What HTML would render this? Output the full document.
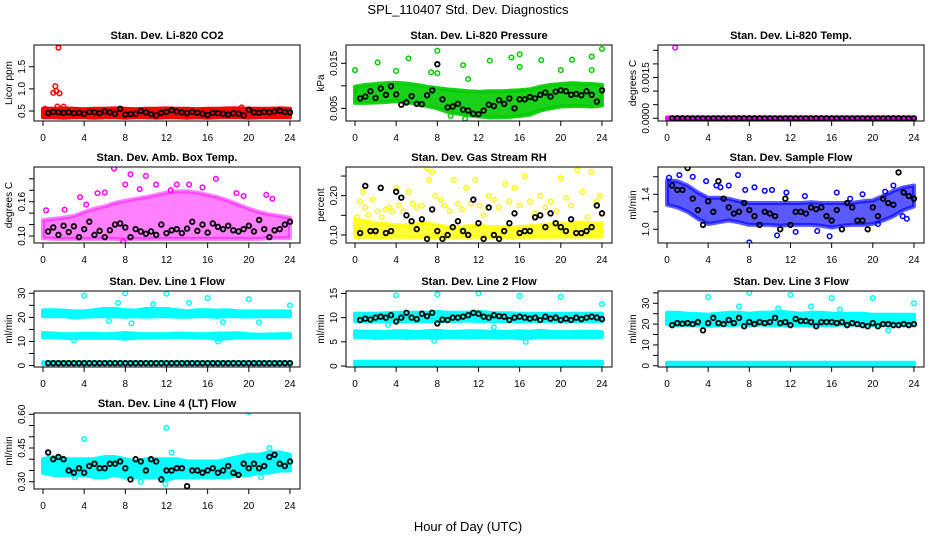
<!DOCTYPE html>
<html><head><meta charset="utf-8"><style>
body{margin:0;background:#fff;}
svg text{font-family:"Liberation Sans",sans-serif;}
</style></head><body>
<svg id="chart" width="936" height="540" viewBox="0 0 936 540" xmlns="http://www.w3.org/2000/svg">
<text x="468" y="14" text-anchor="middle" font-size="13">SPL_110407  Std. Dev. Diagnostics</text>
<text x="468" y="531" text-anchor="middle" font-size="13">Hour of Day (UTC)</text>
</svg>
<script>
const xTicks=[0,4,8,12,16,20,24];
const bandHours=[0,1,2,3,4,5,6,7,8,9,10,11,12,13,14,15,16,17,18,19,20,21,22,23,24];
const blackHours=[0.5,1,1.5,2,2.5,3,3.5,4,4.5,5,5.5,6,6.5,7,7.5,8,8.5,9,9.5,10,10.5,11,11.5,12,12.5,13,13.5,14,14.5,15,15.5,16,16.5,17,17.5,18,18.5,19,19.5,20,20.5,21,21.5,22,22.5,23,23.5,24];

// CO2
const co2Lo=[0.36,0.36,0.35,0.36,0.36,0.35,0.36,0.36,0.35,0.36,0.36,0.35,0.36,0.36,0.35,0.36,0.35,0.36,0.36,0.36,0.35,0.36,0.36,0.36,0.36];
const co2Hi=[0.55,0.55,0.56,0.55,0.54,0.55,0.55,0.56,0.55,0.54,0.55,0.55,0.56,0.55,0.55,0.54,0.55,0.55,0.56,0.56,0.55,0.55,0.55,0.56,0.55];
const co2OutX=[1.5,1.2,1.0,1.3,1.6,1.4,2.0,19.3,0.2];
const co2OutY=[1.93,1.06,0.91,0.95,0.9,0.6,0.6,0.58,0.55];
const co2Black=[0.45,0.48,0.47,0.46,0.47,0.45,0.46,0.44,0.48,0.47,0.45,0.49,0.47,0.44,0.55,0.42,0.43,0.44,0.50,0.47,0.43,0.40,0.46,0.48,0.52,0.49,0.47,0.45,0.48,0.46,0.44,0.41,0.46,0.45,0.44,0.42,0.45,0.44,0.40,0.53,0.47,0.46,0.48,0.47,0.49,0.51,0.48,0.47];
// Pressure
const presLo=[0.0062,0.0062,0.0063,0.0064,0.0066,0.0064,0.006,0.0055,0.005,0.0042,0.0038,0.0035,0.0032,0.003,0.003,0.0031,0.0033,0.0036,0.0045,0.005,0.0054,0.0055,0.0055,0.0054,0.0056];
const presHi=[0.0098,0.0102,0.0104,0.0106,0.0107,0.0105,0.0102,0.0098,0.0095,0.0092,0.009,0.0088,0.0087,0.0088,0.0088,0.0089,0.009,0.0092,0.0098,0.0102,0.0104,0.0106,0.0105,0.0104,0.0102];
const presOutX=[0,2.2,4,5.2,7.4,8,8,10.5,11,13.1,15.2,16,16,18.1,20,21.1,23,23,24,10.7,9.3];
const presOutY=[0.0135,0.0152,0.0133,0.0161,0.013,0.0178,0.0128,0.0146,0.0115,0.0156,0.0163,0.017,0.0142,0.0157,0.0135,0.0158,0.0135,0.0165,0.0182,0.0027,0.0033];
const presBlack=[0.0072,0.0076,0.0088,0.0073,0.0094,0.0080,0.0099,0.0081,0.0058,0.0063,0.0077,0.0060,0.0059,0.0079,0.0090,0.0148,0.0070,0.0052,0.0054,0.0060,0.0047,0.0045,0.0038,0.0037,0.0045,0.0058,0.0055,0.0068,0.0060,0.0072,0.0050,0.0070,0.0070,0.0075,0.0072,0.0080,0.0085,0.0076,0.0087,0.0090,0.0088,0.0080,0.0082,0.0079,0.0088,0.0080,0.0065,0.0090];
// Temp
const tempLo=[-0.00003,-0.00003,-0.00003,-0.00003,-0.00003,-0.00003,-0.00003,-0.00003,-0.00003,-0.00003,-0.00003,-0.00003,-0.00003,-0.00003,-0.00003,-0.00003,-0.00003,-0.00003,-0.00003,-0.00003,-0.00003,-0.00003,-0.00003,-0.00003,-0.00003];
const tempHi=[0.00003,0.00003,0.00003,0.00003,0.00003,0.00003,0.00003,0.00003,0.00003,0.00003,0.00003,0.00003,0.00003,0.00003,0.00003,0.00003,0.00003,0.00003,0.00003,0.00003,0.00003,0.00003,0.00003,0.00003,0.00003];
const tempOutX=[0.8];
const tempOutY=[0.0026];
const tempBlack=[0,0,0,0,0,0,0,0,0,0,0,0,0,0,0,0,0,0,0,0,0,0,0,0,0,0,0,0,0,0,0,0,0,0,0,0,0,0,0,0,0,0,0,0,0,0,0,0];
// Amb box temp
const ambLo=[0.096,0.095,0.095,0.095,0.095,0.095,0.095,0.095,0.094,0.095,0.095,0.095,0.095,0.095,0.095,0.095,0.095,0.095,0.095,0.095,0.095,0.095,0.096,0.096,0.096];
const ambHi=[0.128,0.13,0.132,0.135,0.142,0.148,0.152,0.158,0.162,0.165,0.168,0.172,0.176,0.178,0.178,0.176,0.172,0.168,0.162,0.155,0.148,0.142,0.138,0.135,0.132];
const ambOutX=[6.9,8.5,10,8,13,14.2,16.8,11,3.6,5.3,6,21.7,22.3,0.3,2.1,4.2,15.5,18.8,9.4,12.4,7.8,19.5];
const ambOutY=[0.218,0.208,0.205,0.19,0.19,0.19,0.2,0.19,0.168,0.175,0.176,0.172,0.165,0.145,0.146,0.155,0.185,0.175,0.182,0.18,0.09,0.17];
const ambBlack=[0.108,0.115,0.102,0.118,0.107,0.117,0.098,0.112,0.125,0.102,0.109,0.098,0.110,0.120,0.122,0.115,0.098,0.112,0.108,0.104,0.108,0.102,0.120,0.105,0.110,0.112,0.105,0.113,0.125,0.109,0.120,0.106,0.122,0.116,0.112,0.118,0.110,0.108,0.112,0.118,0.108,0.128,0.112,0.098,0.110,0.112,0.120,0.125];
// RH
const rhLo=[0.095,0.095,0.094,0.095,0.095,0.095,0.095,0.095,0.094,0.095,0.095,0.095,0.095,0.095,0.095,0.095,0.095,0.095,0.095,0.095,0.096,0.096,0.096,0.096,0.096];
const rhHi=[0.14,0.135,0.13,0.128,0.125,0.125,0.128,0.13,0.125,0.12,0.12,0.122,0.125,0.12,0.12,0.12,0.12,0.122,0.125,0.128,0.13,0.13,0.132,0.13,0.13];
const rhOutX=[0.2,0.5,0.8,1.0,1.3,1.7,2.2,2.6,3.0,3.3,3.6,4.0,4.3,4.7,5.2,5.6,6.0,6.5,7.0,7.2,7.5,7.8,8.3,8.7,9.2,9.6,10.0,10.4,10.8,11.3,11.7,12.1,12.5,13.0,13.5,14.0,14.6,15.0,15.5,16.0,16.5,17.0,17.5,18.0,18.5,19.0,19.6,20.0,20.5,21.0,21.6,22.1,22.6,23.0,23.5,23.8];
const rhOutY=[0.145,0.185,0.21,0.17,0.15,0.19,0.16,0.145,0.165,0.17,0.16,0.22,0.175,0.16,0.21,0.18,0.17,0.175,0.27,0.24,0.26,0.2,0.19,0.175,0.16,0.24,0.18,0.165,0.22,0.18,0.24,0.175,0.15,0.2,0.19,0.17,0.23,0.185,0.22,0.175,0.25,0.185,0.155,0.2,0.17,0.185,0.16,0.245,0.195,0.175,0.265,0.21,0.145,0.26,0.185,0.2];
const rhBlack=[0.105,0.225,0.11,0.11,0.22,0.105,0.11,0.21,0.195,0.15,0.135,0.115,0.14,0.09,0.165,0.11,0.09,0.10,0.12,0.135,0.11,0.10,0.19,0.13,0.09,0.17,0.10,0.09,0.11,0.13,0.155,0.105,0.11,0.11,0.145,0.15,0.12,0.155,0.13,0.12,0.11,0.14,0.105,0.105,0.11,0.12,0.175,0.155];
// Sample flow
const sfLo=[1.28,1.25,1.2,1.12,1.06,1.08,1.1,1.08,1.05,1.05,1.05,1.04,1.05,1.05,1.05,1.04,1.02,1.04,1.05,1.05,1.06,1.1,1.15,1.22,1.26];
const sfHi=[1.56,1.55,1.5,1.42,1.36,1.36,1.35,1.32,1.3,1.3,1.3,1.3,1.3,1.3,1.31,1.3,1.3,1.3,1.3,1.32,1.33,1.38,1.44,1.48,1.5];
const sfOutX=[0.2,1.2,2.5,3.8,4.8,5.2,6.0,6.9,7.6,8.0,8.5,9.5,10.2,10.7,11.6,12.5,13.4,14.6,15.8,16.5,17.8,19.0,20.5,21.2,22.0,22.9,23.3];
const sfOutY=[1.59,1.62,1.6,1.55,1.5,1.48,1.5,1.62,1.45,0.85,1.48,1.44,1.45,0.93,1.42,0.97,1.38,0.98,0.92,1.42,1.35,1.4,1.06,1.43,1.5,1.15,1.12];
const sfBlack=[1.5,1.45,1.45,1.7,1.35,1.22,1.05,1.32,1.2,1.55,1.35,1.25,1.18,1.2,1.3,1.22,1.15,1.05,1.2,1.18,1.15,1.0,1.35,1.05,1.2,1.2,1.18,1.25,1.23,1.25,1.15,1.1,1.22,1.0,1.3,1.25,1.1,1.1,1.0,1.25,1.15,1.35,1.3,1.28,1.65,1.42,1.38,1.35];
// Line 1
const l1TopLo=[20.5,20.5,20.5,20,20.3,20.5,20.5,20.5,20.2,20.5,20.3,20.5,20.5,20.3,20.2,20.5,20.5,20.2,20.5,20.5,20.3,20.5,20.5,20.5,20.5];
const l1TopHi=[23,23,22.8,22.5,22.5,23,23.5,23.5,23,22.8,23.5,23.5,23.5,23,22.5,23,23,22.8,23,22.5,22.5,22.5,22.5,22.5,22.5];
const l1MidLo=[11.8,11.8,11.5,11.3,11.5,11.5,11.5,11.5,11.2,11.5,11.7,11.7,11.8,11.8,11.8,11.7,11.5,11,11.3,11.7,11.7,11.6,11.7,11.7,11.8];
const l1MidHi=[13.5,13.3,13,13,13.2,13.2,13,13.2,13.5,13.2,13,13,13,13.3,13.2,13,13,13.3,13.3,13.4,13,12.8,12.9,13,13];
const l1BotLo=[0.6,0.6,0.6,0.6,0.6,0.6,0.6,0.6,0.6,0.6,0.6,0.6,0.6,0.6,0.6,0.6,0.6,0.6,0.6,0.6,0.6,0.6,0.6,0.6,0.6];
const l1BotHi=[1.4,1.4,1.4,1.4,1.4,1.4,1.4,1.4,1.4,1.4,1.4,1.4,1.4,1.4,1.4,1.4,1.4,1.4,1.4,1.4,1.4,1.4,1.4,1.4,1.4];
const l1OutX=[4,8,12,16,20,24,14.2,7.3,8.6,21,17.5,17,3,10.7,6.4];
const l1OutY=[29,30,29.8,28,27.5,25,26,26,17.5,18,18,10,10.5,25.5,18.5];
const l1Black=[1,1,1,1,1,1,1,1,1,1,1,1,1,1,1,1,1,1,1,1,1,1,1,1,1,1,1,1,1,1,1,1,1,1,1,1,1,1,1,1,1,1,1,1,1,1,1,1];
// Line 2
const l2TopLo=[9.3,9.2,9.2,9.3,9.2,9.3,9.2,9.3,9.3,9.3,9.3,9.4,9.3,9.3,9.3,9.3,9.2,9.3,9.3,9.3,9.2,9.3,9.3,9.3,9.3];
const l2TopHi=[10.8,10.8,10.8,10.9,11,11,11,11,11.2,11,11,11,11.2,11,10.9,10.9,10.8,10.8,10.8,10.8,10.8,10.8,10.8,10.8,10.8];
const l2MidLo=[6,6,5.8,5.9,6,5.8,5.9,6,5.8,6,6,5.9,6,6,5.9,6,5.7,5.8,6,6,6,6,6,6,6];
const l2MidHi=[7.2,7.1,7.1,7,7.2,7.2,7,7.2,7.3,7.1,7.1,7.2,7.2,7.1,7.1,7.1,7.2,7.1,7.3,7.1,7,7,7.1,7.1,7];
const l2BotLo=[0.3,0.3,0.3,0.3,0.3,0.3,0.3,0.3,0.3,0.3,0.3,0.3,0.3,0.3,0.3,0.3,0.3,0.3,0.3,0.3,0.3,0.3,0.3,0.3,0.3];
const l2BotHi=[0.9,0.9,0.9,0.9,0.9,0.9,0.9,0.9,0.9,0.9,0.9,0.9,0.9,0.9,0.9,0.9,0.9,0.9,0.9,0.9,0.9,0.9,0.9,0.9,0.9];
const l2OutX=[4,8,12,16,20,24,3.2,13.5,7.7,16.6];
const l2OutY=[14.6,14.8,15,14.5,14.3,12.8,8.5,8,5.2,5];
const l2Black=[9.5,9.8,9.6,10,10.2,10,10.5,9.2,10,11,10,9.7,10.8,10.3,11,8.8,9.6,9.5,10,10,10.2,10.5,11,10.8,10.2,10,10.5,10.3,10.2,9.5,10,10.2,10,9.8,10,9.5,10.2,9.8,10,9.5,9.8,9.5,10,9.7,10,10.2,10,9.7];
// Line 3
const l3TopLo=[20,19.5,19.5,19.5,19.2,19.5,19.5,19.8,19.5,19.8,19.5,19.5,19.5,19.5,19.5,19.5,19.5,19.8,19.8,19.5,19.5,19.5,19.5,19.5,19.5];
const l3TopHi=[25.5,25.5,25,24.8,24.5,25,25.5,25.5,25,25.5,25.5,26,25.5,25,25.5,25.5,25,25,25,25,24.5,24.5,24.5,24.5,24.5];
const l3BotLo=[0.6,0.6,0.6,0.6,0.6,0.6,0.6,0.6,0.6,0.6,0.6,0.6,0.6,0.6,0.6,0.6,0.6,0.6,0.6,0.6,0.6,0.6,0.6,0.6,0.6];
const l3BotHi=[1.4,1.4,1.4,1.4,1.4,1.4,1.4,1.4,1.4,1.4,1.4,1.4,1.4,1.4,1.4,1.4,1.4,1.4,1.4,1.4,1.4,1.4,1.4,1.4,1.4];
const l3OutX=[4,8,12,16,20,24,7,14,10.8,16.8,21.5];
const l3OutY=[33,35,34,32.5,32.5,30,28.5,28.5,27.5,27,17];
const l3Black=[19.5,20.5,20.2,20.5,20,21,17,20.5,23,20.5,20,22,20.5,23,19,21,20,21,20.5,21,23,20.5,21,19.5,22.5,21.5,21.5,21,19,21,21,21,20.5,21,19.5,20.5,20,19.5,19,20.5,19,20,20,19.5,19.5,20,19.5,20];
// Line 4
const l4Lo=[0.34,0.33,0.33,0.33,0.33,0.32,0.32,0.33,0.32,0.32,0.32,0.32,0.31,0.32,0.32,0.32,0.32,0.32,0.32,0.33,0.33,0.34,0.34,0.35,0.35];
const l4Hi=[0.4,0.41,0.4,0.4,0.4,0.4,0.41,0.41,0.4,0.39,0.4,0.4,0.4,0.4,0.39,0.39,0.39,0.39,0.4,0.41,0.42,0.42,0.43,0.43,0.42];
const l4OutX=[4,12,20,22,12.5,9.5,11.9,21.2,3.1,17.8];
const l4OutY=[0.49,0.54,0.61,0.45,0.43,0.3,0.29,0.32,0.32,0.33];
const l4Black=[0.43,0.40,0.41,0.40,0.35,0.34,0.36,0.34,0.37,0.38,0.36,0.36,0.38,0.38,0.39,0.36,0.31,0.40,0.39,0.35,0.40,0.39,0.31,0.35,0.35,0.36,0.36,0.28,0.35,0.35,0.34,0.35,0.36,0.34,0.35,0.37,0.34,0.33,0.38,0.36,0.38,0.36,0.37,0.41,0.42,0.38,0.37,0.39];

const svg=document.getElementById('chart');
const NS='http://www.w3.org/2000/svg';
function mk(tag,attrs,parent){const e=document.createElementNS(NS,tag);for(const k in attrs)e.setAttribute(k,attrs[k]);(parent||svg).appendChild(e);return e;}

const cols=[34,346,658], rows=[[45,121],[167,243],[291,367],[413,489]];
const panels=[
 {key:'co2',title:'Stan. Dev. Li-820 CO2',ylab:'Licor ppm',col:0,row:0,lo:0.275,hi:1.99,ticks:[0.5,1.0,1.5],labels:['0.5','1.0','1.5'],color:'#ff0000',bands:[[co2Lo,co2Hi]],ox:co2OutX,oy:co2OutY,bk:co2Black},
 {key:'pressure',title:'Stan. Dev. Li-820 Pressure',ylab:'kPa',col:1,row:0,lo:0.00218,hi:0.01907,ticks:[0.005,0.010,0.015],labels:['0.005','','0.015'],color:'#00cc00',op:0.9,bands:[[presLo,presHi]],ox:presOutX,oy:presOutY,bk:presBlack},
 {key:'temp',title:'Stan. Dev. Li-820 Temp.',ylab:'degrees C',col:2,row:0,lo:-0.0001,hi:0.002695,ticks:[0,0.0005,0.001,0.0015,0.002,0.0025],labels:['0.0000','','','0.0015','',''],color:'#ff00ff',bands:[[tempLo,tempHi]],ox:tempOutX,oy:tempOutY,bk:tempBlack},
 {key:'amb',title:'Stan. Dev. Amb. Box Temp.',ylab:'degrees C',col:0,row:1,lo:0.0878,hi:0.2207,ticks:[0.10,0.12,0.14,0.16,0.18,0.20],labels:['0.10','','','0.16','',''],color:'#ff00ff',op:0.5,bands:[[ambLo,ambHi]],ox:ambOutX,oy:ambOutY,bk:ambBlack},
 {key:'rh',title:'Stan. Dev. Gas Stream RH',ylab:'percent',col:1,row:1,lo:0.0796,hi:0.273,ticks:[0.10,0.15,0.20,0.25],labels:['0.10','','0.20',''],color:'#ffff00',op:0.8,bands:[[rhLo,rhHi]],ox:rhOutX,oy:rhOutY,bk:rhBlack},
 {key:'sample-flow',title:'Stan. Dev. Sample Flow',ylab:'ml/min',col:2,row:1,lo:0.843,hi:1.712,ticks:[1.0,1.2,1.4,1.6],labels:['1.0','','1.4',''],color:'#0000ff',op:0.65,bands:[[sfLo,sfHi]],ox:sfOutX,oy:sfOutY,bk:sfBlack},
 {key:'line1',title:'Stan. Dev. Line 1 Flow',ylab:'ml/min',col:0,row:2,lo:-0.6,hi:30.95,ticks:[0,5,10,15,20,25,30],labels:['0','','10','','20','','30'],color:'#00ffff',bands:[[l1TopLo,l1TopHi],[l1MidLo,l1MidHi],[l1BotLo,l1BotHi]],ox:l1OutX,oy:l1OutY,bk:l1Black},
 {key:'line2',title:'Stan. Dev. Line 2 Flow',ylab:'ml/min',col:1,row:2,lo:-0.2,hi:15.5,ticks:[0,5,10,15],labels:['0','5','10','15'],color:'#00ffff',bands:[[l2TopLo,l2TopHi],[l2MidLo,l2MidHi],[l2BotLo,l2BotHi]],ox:l2OutX,oy:l2OutY,bk:l2Black},
 {key:'line3',title:'Stan. Dev. Line 3 Flow',ylab:'ml/min',col:2,row:2,lo:-0.6,hi:35.9,ticks:[0,5,10,15,20,25,30,35],labels:['0','','10','','20','','30',''],color:'#00ffff',bands:[[l3TopLo,l3TopHi],[l3BotLo,l3BotHi]],ox:l3OutX,oy:l3OutY,bk:l3Black},
 {key:'line4',title:'Stan. Dev. Line 4 (LT) Flow',ylab:'ml/min',col:0,row:3,lo:0.2675,hi:0.6058,ticks:[0.30,0.35,0.40,0.45,0.50,0.55,0.60],labels:['0.30','','','0.45','','','0.60'],color:'#00ffff',bands:[[l4Lo,l4Hi]],ox:l4OutX,oy:l4OutY,bk:l4Black}
];

panels.forEach(p=>{
 const L=cols[p.col],R=L+266,T=rows[p.row][0],B=rows[p.row][1];
 const g=mk('g',{});
 
 
 const xs=h=>L+9+h*10.29;
 const ys=v=>B-(v-p.lo)/(p.hi-p.lo)*(B-T);
 const clip=mk('clipPath',{id:'clip-'+p.key},g);
 mk('rect',{x:L,y:T,width:266,height:B-T},clip);
 const plot=mk('g',{'clip-path':'url(#clip-'+p.key+')'},g);
 p.bands.forEach((bd,bi)=>{
  let d='';
  bandHours.forEach((h,i)=>{d+=(i?'L':'M')+xs(h).toFixed(1)+','+ys(bd[1][i]).toFixed(1);});
  for(let i=bandHours.length-1;i>=0;i--)d+='L'+xs(bandHours[i]).toFixed(1)+','+ys(bd[0][i]).toFixed(1);
  d+='Z';
  const path=mk('path',{d:d,fill:p.color,stroke:p.color,'stroke-width':4,'stroke-linejoin':'round','fill-opacity':p.op||1,'stroke-opacity':p.op||1},plot);
  
  
 });
 p.ox.forEach((h,i)=>{
  const c=mk('circle',{cx:xs(h),cy:ys(p.oy[i]),r:2.3,fill:'none',stroke:p.color,'stroke-width':1.5},plot);
  
  
 });
 blackHours.forEach((h,i)=>{
  const c=mk('circle',{cx:xs(h),cy:ys(p.bk[i]),r:2.3,fill:'none',stroke:'#000','stroke-width':1.8},plot);
  
  
 });
 const box=mk('rect',{x:L,y:T,width:266,height:B-T,fill:'none',stroke:'#000','stroke-width':1},g);
 
 
 const t=mk('text',{x:L+133,y:T-6,'text-anchor':'middle','font-size':11,'font-weight':'bold'},g);
 t.textContent=p.title;
 
 
 mk('line',{x1:xs(0),x2:xs(24),y1:B,y2:B,stroke:'#000'},g);
 xTicks.forEach(h=>{
  mk('line',{x1:xs(h),x2:xs(h),y1:B,y2:B+5,stroke:'#000'},g);
  const tx=mk('text',{x:xs(h),y:B+20,'text-anchor':'middle','font-size':10},g);
  tx.textContent=String(h);
  
  
 });
 mk('line',{x1:L,x2:L,y1:ys(p.ticks[0]),y2:ys(p.ticks[p.ticks.length-1]),stroke:'#000'},g);
 p.ticks.forEach((v,i)=>{
  const y=ys(v);
  mk('line',{x1:L-5,x2:L,y1:y,y2:y,stroke:'#000'},g);
  if(p.labels[i]){
   const ty=mk('text',{x:L-9,y:y,'text-anchor':'middle','font-size':10,transform:'rotate(-90 '+(L-9)+' '+y+')'},g);
   ty.textContent=p.labels[i];
   
   
  }
 });
 const yl=mk('text',{x:L-22,y:(T+B)/2,'text-anchor':'middle','font-size':10,transform:'rotate(-90 '+(L-22)+' '+((T+B)/2)+')'},g);
 yl.textContent=p.ylab;
 
 
});
</script>
</body></html>
